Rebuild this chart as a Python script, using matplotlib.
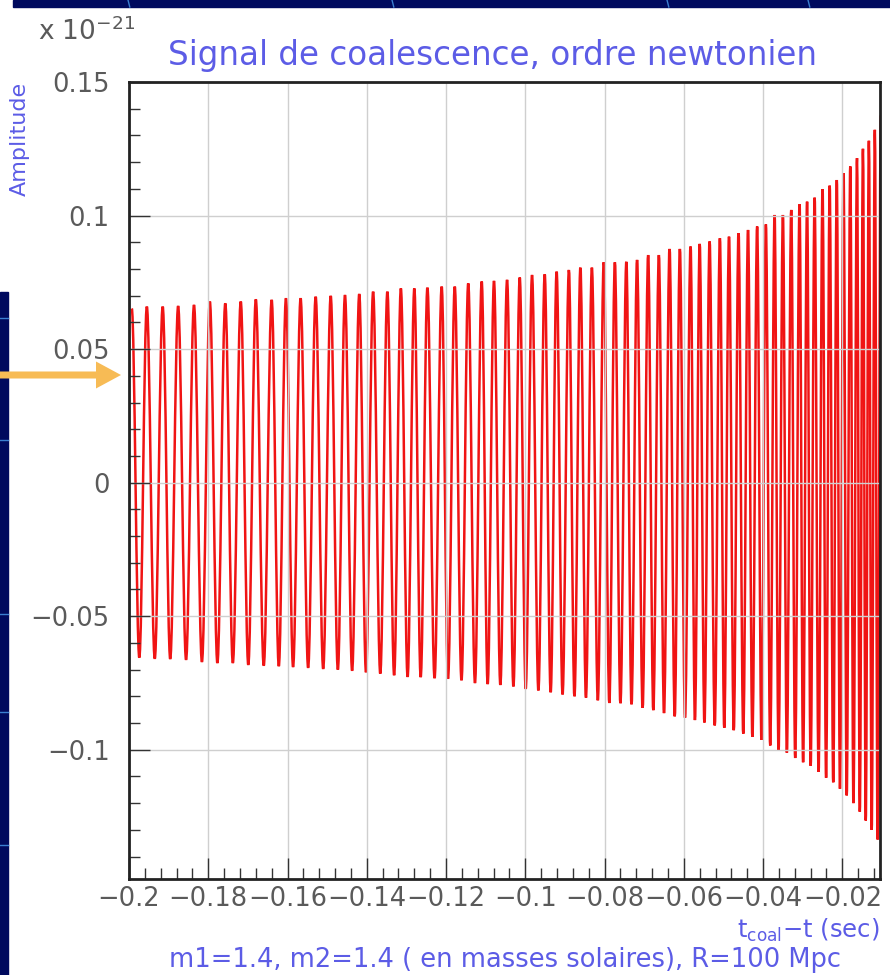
import matplotlib
matplotlib.use("Agg")
import matplotlib.pyplot as plt
from matplotlib.path import Path
from matplotlib.patches import PathPatch, FancyArrow
from matplotlib.ticker import FixedLocator, MultipleLocator, FuncFormatter

# extrema of the chirp (time in s, amplitude in 1e-21)
t_max = [-0.1993, -0.1955, -0.1915, -0.1876, -0.1836, -0.1796, -0.1757, -0.1718, -0.1680, -0.1640,
         -0.1604, -0.1567, -0.1529, -0.1491, -0.1455, -0.1419, -0.1384, -0.1348, -0.1314, -0.1280,
         -0.1247, -0.1211, -0.1178, -0.1144, -0.1110, -0.1079, -0.1046, -0.1014, -0.0983, -0.0951,
         -0.0921, -0.0890, -0.0861, -0.0832, -0.0802, -0.0774, -0.0745, -0.0718, -0.0690, -0.0663,
         -0.0636, -0.0610, -0.0583, -0.0560, -0.0535, -0.0509, -0.0486, -0.0462, -0.0438, -0.0415,
         -0.0393, -0.0371, -0.0350, -0.0329, -0.0308, -0.0289, -0.0270, -0.0250, -0.0232, -0.0214,
         -0.0197, -0.0180, -0.0163, -0.0148, -0.0133, -0.0118, -0.0103]
h_max = [0.0652, 0.0659, 0.0659, 0.0661, 0.0665, 0.0678, 0.0671, 0.0678, 0.0686, 0.0684,
         0.0690, 0.0690, 0.0696, 0.0699, 0.0702, 0.0706, 0.0715, 0.0715, 0.0727, 0.0727,
         0.0730, 0.0734, 0.0734, 0.0746, 0.0753, 0.0755, 0.0759, 0.0768, 0.0777, 0.0780,
         0.0790, 0.0796, 0.0805, 0.0805, 0.0825, 0.0825, 0.0827, 0.0834, 0.0852, 0.0852,
         0.0875, 0.0875, 0.0884, 0.0894, 0.0903, 0.0915, 0.0921, 0.0934, 0.0946, 0.0959,
         0.0967, 0.1002, 0.1002, 0.1021, 0.1042, 0.1052, 0.1067, 0.1099, 0.1112, 0.1133,
         0.1159, 0.1184, 0.1215, 0.1250, 0.1280, 0.1321, 0.1375]

t_min = [-0.1974, -0.1935, -0.1896, -0.1856, -0.1816, -0.1777, -0.1738, -0.1699, -0.1660, -0.1622,
         -0.1586, -0.1548, -0.1510, -0.1473, -0.1437, -0.1402, -0.1366, -0.1331, -0.1297, -0.1264,
         -0.1229, -0.1195, -0.1161, -0.1127, -0.1095, -0.1063, -0.1030, -0.0999, -0.0967, -0.0936,
         -0.0906, -0.0876, -0.0847, -0.0817, -0.0788, -0.0760, -0.0732, -0.0704, -0.0677, -0.0650,
         -0.0623, -0.0597, -0.0572, -0.0548, -0.0522, -0.0498, -0.0474, -0.0450, -0.0427, -0.0404,
         -0.0382, -0.0361, -0.0340, -0.0319, -0.0299, -0.0280, -0.0260, -0.0241, -0.0223, -0.0206,
         -0.0189, -0.0172, -0.0156, -0.0141, -0.0126, -0.0111]
h_min = [-0.0655, -0.0659, -0.0660, -0.0663, -0.0671, -0.0675, -0.0675, -0.0682, -0.0685, -0.0687,
         -0.0690, -0.0693, -0.0697, -0.0700, -0.0704, -0.0710, -0.0715, -0.0721, -0.0727, -0.0728,
         -0.0732, -0.0734, -0.0740, -0.0750, -0.0754, -0.0757, -0.0763, -0.0772, -0.0778, -0.0785,
         -0.0793, -0.0800, -0.0805, -0.0815, -0.0825, -0.0826, -0.0830, -0.0843, -0.0852, -0.0863,
         -0.0875, -0.0880, -0.0889, -0.0898, -0.0909, -0.0918, -0.0927, -0.0940, -0.0952, -0.0963,
         -0.0984, -0.1002, -0.1011, -0.1031, -0.1047, -0.1060, -0.1083, -0.1105, -0.1122, -0.1146,
         -0.1171, -0.1200, -0.1232, -0.1265, -0.1300, -0.1336]

x_ticks = [-0.2, -0.18, -0.16, -0.14, -0.12, -0.1, -0.08, -0.06, -0.04, -0.02]
y_ticks = [-0.1, -0.05, 0, 0.05, 0.1, 0.15]

BLUE = "#5c5ce6"
GREY = "#5a5a5a"
NAVY = "#000a5e"

pts = sorted(list(zip(t_max, h_max)) + list(zip(t_min, h_min)))

# smooth half-waves between extrema (cubic bezier with flat tangents at the extrema)
K = 0.3634
verts = [pts[0]]
codes = [Path.MOVETO]
for (t0, h0), (t1, h1) in zip(pts[:-1], pts[1:]):
    dt = t1 - t0
    verts += [(t0 + K * dt, h0), (t1 - K * dt, h1), (t1, h1)]
    codes += [Path.CURVE4] * 3

fig = plt.figure(figsize=(8.9, 9.75), dpi=100)
fig.patch.set_facecolor("white")

# slide background bits
fig.patches.append(plt.Rectangle((13 / 890, 1 - 7 / 975), 1, 7 / 975, transform=fig.transFigure,
                                 color=NAVY, zorder=0))
fig.patches.append(plt.Rectangle((0, 0), 8 / 890, 1 - 292 / 975, transform=fig.transFigure,
                                 color=NAVY, zorder=0))
for xp in [128, 392, 667, 808]:
    fig.add_artist(plt.Line2D([xp / 890, xp / 890 + 0.002], [1, 1 - 7 / 975], transform=fig.transFigure,
                              color="#3a7fd0", lw=1))
for yp in [318, 440, 614, 712, 845]:
    fig.add_artist(plt.Line2D([0, 8 / 890], [1 - yp / 975, 1 - yp / 975], transform=fig.transFigure,
                              color="#3a7fd0", lw=1))

ax = fig.add_axes([129 / 890, 1 - 879 / 975, (880 - 129) / 890, (879 - 82) / 975])
ax.add_patch(PathPatch(Path(verts, codes), fill=False, edgecolor="#f01414", lw=1.8))

ax.set_xlim(-0.2, -0.0105)
ax.set_ylim(-0.1484, 0.15)

ax.xaxis.set_major_locator(FixedLocator(x_ticks))
ax.yaxis.set_major_locator(FixedLocator(y_ticks))
ax.xaxis.set_minor_locator(MultipleLocator(0.004))
ax.yaxis.set_minor_locator(MultipleLocator(0.01))
fmt = FuncFormatter(lambda v, p: ("{:g}".format(round(v, 3))).replace("-", "\u2212"))
ax.xaxis.set_major_formatter(fmt)
ax.yaxis.set_major_formatter(fmt)

ax.grid(True, which="major", color="#cfcfcf", lw=1.0)
ax.tick_params(which="both", direction="in", top=False, right=False, colors="#333333",
               labelcolor=GREY, labelsize=18.5)
ax.tick_params(which="major", length=15, width=1)
ax.tick_params(which="minor", length=8, width=1)
ax.tick_params(axis="y", pad=14)
ax.tick_params(axis="x", pad=5)
for s in ax.spines.values():
    s.set_linewidth(2)
    s.set_color("#222222")

fig.text(492 / 890, 1 - 55 / 975, "Signal de coalescence, ordre newtonien", color=BLUE,
         fontsize=23.5, ha="center", va="center")
fig.text(38 / 890, 1 - 32 / 975, "x 10$^{\\mathregular{-21}}$", color=GREY, fontsize=19,
         ha="left", va="center")
fig.text(20 / 890, 1 - 82 / 975, "Amplitude", color=BLUE, fontsize=16, rotation=90,
         ha="center", va="top")
fig.text(880 / 890, 1 - 930 / 975, "t$_{\\mathregular{coal}}$\u2212t (sec)", color=BLUE,
         fontsize=17.5, ha="right", va="center")
fig.text(505 / 890, 1 - 960 / 975, "m1=1.4, m2=1.4 ( en masses solaires), R=100 Mpc", color=BLUE,
         fontsize=18.5, ha="center", va="center")

# orange arrow pointing at the start of the signal
fig.add_artist(FancyArrow(0, 6.0, 1.21, 0, width=0.07, head_width=0.27, head_length=0.25,
                          length_includes_head=True, color="#f7bb55", lw=0,
                          transform=fig.dpi_scale_trans, zorder=10))

fig.savefig("out.png", dpi=100)
